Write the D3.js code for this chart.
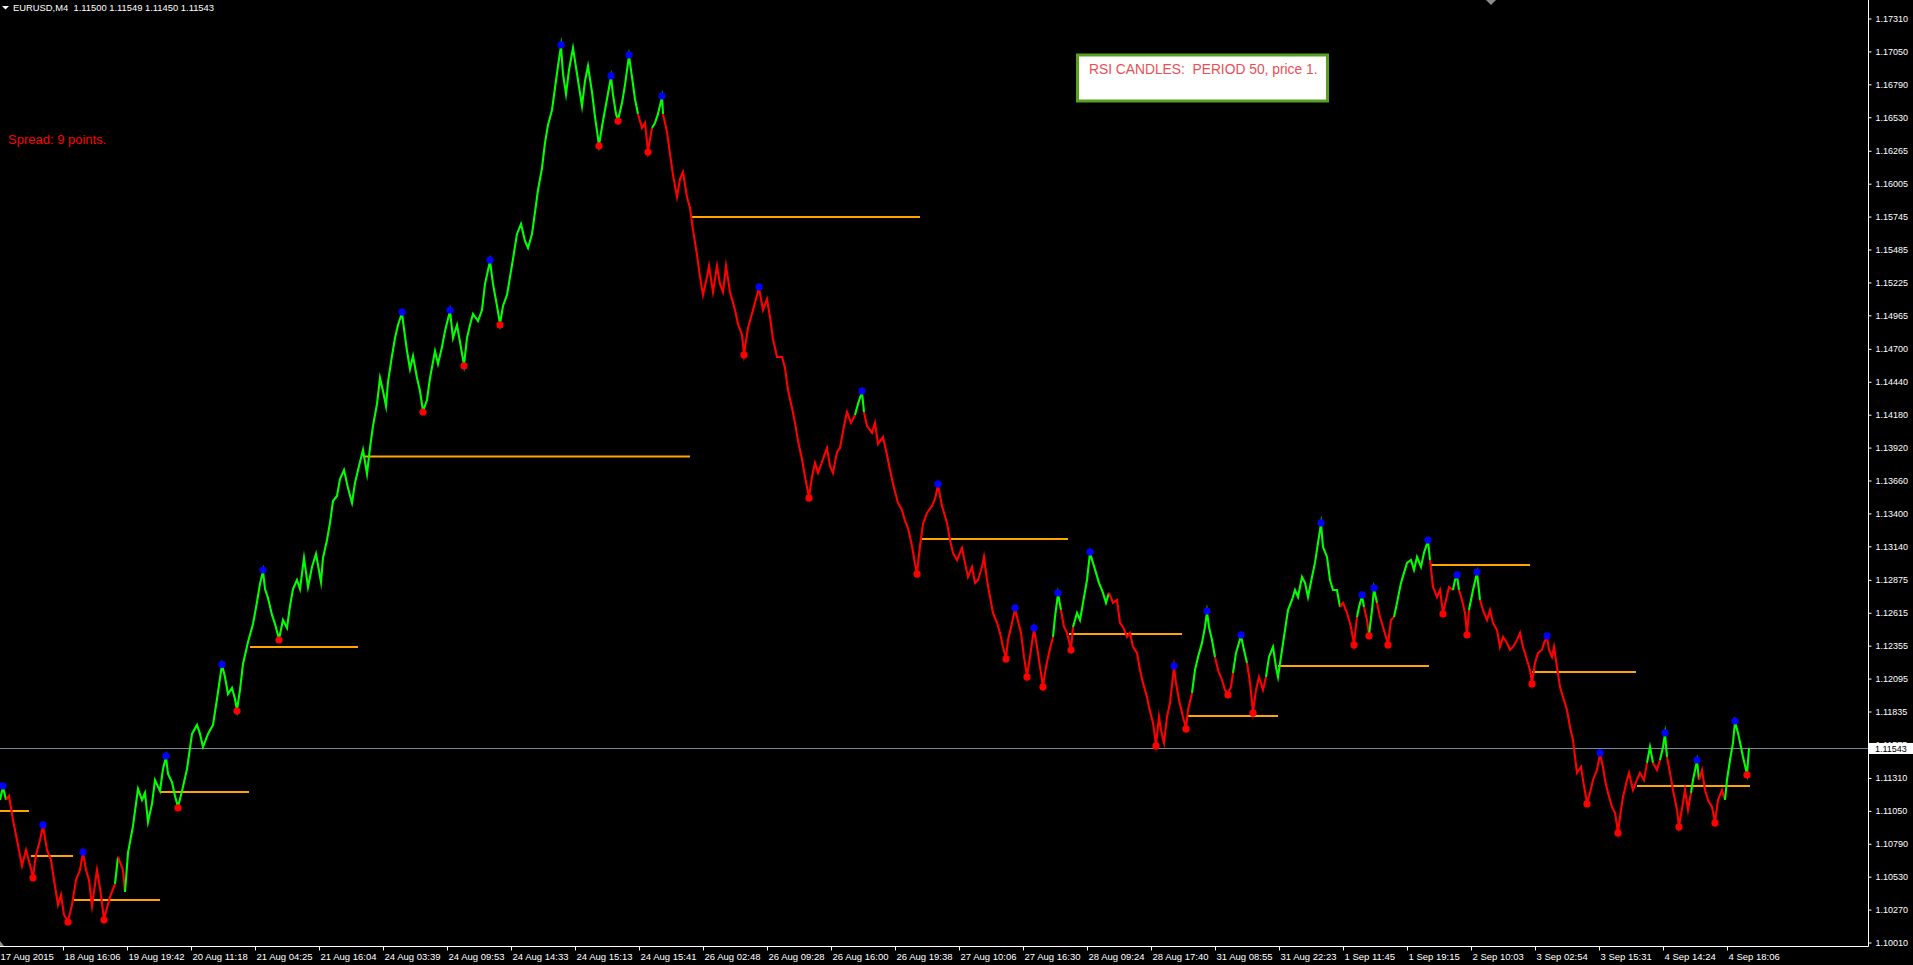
<!DOCTYPE html>
<html>
<head>
<meta charset="utf-8">
<script src="https://cdn.jsdelivr.net/npm/d3@7/dist/d3.min.js"></script>
<style>
  html, body { margin: 0; padding: 0; background: #000; overflow: hidden; }
  svg { display: block; }
  text { white-space: pre; }
</style>
</head>
<body>
<svg id="chart" width="1913" height="965"></svg>
<script>
// ---------------- DATA ----------------
const symbolTitle = "EURUSD,M4  1.11500 1.11549 1.11450 1.11543";
const spreadText = "Spread: 9 points.";
const boxText = "RSI CANDLES:  PERIOD 50, price 1.";
const lastPrice = 1.11543;

// price-axis tick labels
const priceTicks = ["1.17310","1.17050","1.16790","1.16530","1.16265","1.16005","1.15745","1.15485",
  "1.15225","1.14965","1.14700","1.14440","1.14180","1.13920","1.13660","1.13400","1.13140","1.12875",
  "1.12615","1.12355","1.12095","1.11835","1.11575","1.11310","1.11050","1.10790","1.10530","1.10270","1.10010"];

// time-axis labels (one every 64 bars)
const timeLabels = ["17 Aug 2015","18 Aug 16:06","19 Aug 19:42","20 Aug 11:18","21 Aug 04:25","21 Aug 16:04",
  "24 Aug 03:39","24 Aug 09:53","24 Aug 14:33","24 Aug 15:13","24 Aug 15:41","26 Aug 02:48","26 Aug 09:28",
  "26 Aug 16:00","26 Aug 19:38","27 Aug 10:06","27 Aug 16:30","28 Aug 09:24","28 Aug 17:40","31 Aug 08:55",
  "31 Aug 22:23","1 Sep 11:45","1 Sep 19:15","2 Sep 10:03","3 Sep 02:54","3 Sep 15:31","4 Sep 14:24","4 Sep 18:06"];
const timeLabelBars = [0,64,128,192,256,320,384,448,512,576,640,704,768,832,896,960,1024,1088,1152,1216,
  1280,1344,1408,1472,1536,1600,1664,1728];

// close path (bar number, close price)
const bars = [1,4,7,10,14,18,23,27,31,34,37,41,44,48,52,55,59,62,65,69,
73,77,81,84,87,90,93,98,101,105,111,116,119,124,126,129,134,139,143,146,
149,153,156,161,164,167,169,173,176,179,183,188,193,198,201,204,209,214,218,223,
226,229,233,236,238,241,244,249,254,258,261,264,266,269,273,276,280,284,288,291,
294,298,301,305,309,313,317,322,324,328,331,334,338,341,345,349,353,356,359,364,
368,371,374,378,381,384,387,389,393,396,399,403,405,408,411,414,418,421,424,428,
431,436,439,443,446,451,454,458,461,465,468,471,474,479,483,486,491,494,498,501,
504,508,511,514,518,522,526,529,533,536,539,543,546,549,553,556,559,562,564,567,
570,574,578,583,586,589,593,596,600,604,608,612,614,617,619,623,626,630,633,636,
639,643,646,649,653,656,659,663,664,668,671,674,678,681,684,688,691,694,698,701,
704,708,710,714,718,721,724,727,731,736,739,743,745,749,754,760,764,768,771,774,
778,783,786,789,793,796,799,803,806,810,813,816,819,824,828,831,834,838,841,845,
848,852,856,859,863,865,868,873,876,879,884,888,891,895,899,903,906,909,913,916,
918,921,924,928,933,936,939,943,948,951,954,958,963,966,969,973,976,979,983,985,
988,991,994,998,1001,1004,1007,1009,1013,1016,1018,1022,1025,1028,1031,1033,1035,1038,1041,1044,
1047,1050,1054,1056,1059,1062,1065,1068,1072,1074,1078,1081,1084,1088,1091,1094,1097,1100,1104,1107,
1110,1114,1118,1121,1124,1128,1131,1134,1138,1141,1144,1148,1150,1154,1157,1160,1162,1165,1168,1171,
1175,1177,1180,1184,1187,1189,1193,1196,1199,1203,1206,1208,1210,1213,1216,1219,1223,1226,1229,1232,
1234,1237,1242,1245,1248,1251,1254,1257,1260,1264,1267,1270,1274,1277,1279,1283,1286,1289,1293,1296,
1299,1303,1306,1309,1313,1316,1319,1322,1324,1328,1331,1334,1338,1341,1344,1348,1352,1355,1358,1360,
1363,1365,1368,1370,1373,1375,1378,1381,1384,1389,1392,1395,1398,1402,1405,1408,1412,1415,1418,1422,
1425,1429,1431,1434,1438,1441,1444,1447,1450,1454,1456,1458,1460,1463,1466,1468,1470,1474,1478,1481,
1484,1488,1491,1494,1498,1501,1504,1508,1511,1514,1518,1521,1524,1528,1531,1533,1536,1539,1543,1545,
1548,1550,1553,1555,1558,1561,1564,1568,1571,1574,1576,1578,1582,1584,1588,1591,1594,1598,1601,1604,
1606,1609,1613,1616,1619,1622,1624,1628,1630,1634,1638,1641,1645,1648,1651,1654,1658,1661,1664,1666,
1668,1671,1674,1678,1680,1684,1686,1689,1692,1694,1698,1700,1703,1706,1709,1713,1716,1719,1723,1726,
1728,1731,1734,1736,1739,1742,1744,1748,1750];

const closes = [1.11136,1.11239,1.11136,1.11168,1.10978,1.10820,1.10615,1.10741,1.10623,1.10528,
1.10702,1.10820,1.10931,1.10741,1.10662,1.10504,1.10307,1.10386,1.10228,1.10180,
1.10307,1.10504,1.10583,1.10718,1.10583,1.10504,1.10299,1.10583,1.10441,1.10196,
1.10370,1.10473,1.10686,1.10583,1.10409,1.10718,1.10931,1.11223,1.11136,1.11192,
1.10962,1.11105,1.11294,1.11207,1.11381,1.11476,1.11342,1.11278,1.11168,1.11081,
1.11207,1.11381,1.11658,1.11729,1.11658,1.11555,1.11658,1.11729,1.11934,1.12203,
1.12108,1.11974,1.12021,1.11934,1.11847,1.12005,1.12211,1.12384,1.12527,1.12700,
1.12843,1.12945,1.12803,1.12732,1.12598,1.12527,1.12408,1.12558,1.12495,1.12669,
1.12803,1.12874,1.12803,1.13048,1.12819,1.12977,1.13080,1.12858,1.13048,1.13190,
1.13325,1.13498,1.13538,1.13672,1.13743,1.13601,1.13483,1.13641,1.13743,1.13901,
1.13712,1.13917,1.14091,1.14265,1.14470,1.14367,1.14249,1.14438,1.14644,1.14786,
1.14889,1.14984,1.14857,1.14683,1.14541,1.14644,1.14470,1.14367,1.14209,1.14296,
1.14470,1.14683,1.14581,1.14715,1.14841,1.14999,1.14786,1.14889,1.14754,1.14573,
1.14786,1.14889,1.14976,1.14920,1.15007,1.15213,1.15394,1.15213,1.15039,1.14897,
1.15039,1.15126,1.15268,1.15410,1.15608,1.15687,1.15552,1.15497,1.15608,1.15781,
1.15955,1.16129,1.16327,1.16469,1.16587,1.16761,1.16935,1.17093,1.16872,1.16714,
1.16903,1.17077,1.16872,1.16619,1.16816,1.16935,1.16729,1.16532,1.16311,1.16500,
1.16674,1.16848,1.16706,1.16556,1.16508,1.16643,1.16785,1.17014,1.16848,1.16674,
1.16556,1.16445,1.16485,1.16263,1.16445,1.16485,1.16556,1.16690,1.16556,1.16413,
1.16240,1.16074,1.15900,1.16042,1.16097,1.15900,1.15813,1.15639,1.15442,1.15268,
1.15126,1.15268,1.15355,1.15149,1.15355,1.15213,1.15149,1.15355,1.15149,1.15007,
1.14897,1.14810,1.14660,1.14865,1.15007,1.15181,1.15007,1.15094,1.14952,1.14778,
1.14636,1.14636,1.14549,1.14375,1.14233,1.14115,1.13972,1.13830,1.13688,1.13530,
1.13688,1.13799,1.13720,1.13830,1.13917,1.13775,1.13720,1.13885,1.13917,1.14091,
1.14201,1.14115,1.14178,1.14265,1.14359,1.14201,1.14091,1.14036,1.14115,1.13949,
1.14004,1.13862,1.13743,1.13601,1.13483,1.13427,1.13340,1.13285,1.13143,1.13001,
1.12930,1.13143,1.13317,1.13404,1.13459,1.13514,1.13625,1.13459,1.13325,1.13190,
1.13088,1.13032,1.13127,1.13009,1.12898,1.12977,1.12851,1.12874,1.12977,1.13056,
1.12874,1.12740,1.12614,1.12535,1.12456,1.12345,1.12258,1.12400,1.12535,1.12645,
1.12582,1.12456,1.12266,1.12116,1.12266,1.12377,1.12487,1.12345,1.12187,1.12037,
1.12187,1.12298,1.12424,1.12582,1.12764,1.12637,1.12503,1.12456,1.12329,1.12503,
1.12614,1.12558,1.12693,1.12874,1.13088,1.13009,1.12930,1.12851,1.12772,1.12693,
1.12772,1.12693,1.12716,1.12535,1.12503,1.12424,1.12456,1.12345,1.12298,1.12163,
1.12061,1.11950,1.11871,1.11745,1.11571,1.11792,1.11689,1.11587,1.11792,1.11903,
1.12187,1.12061,1.11926,1.11792,1.11705,1.11847,1.11982,1.12163,1.12266,1.12377,
1.12503,1.12621,1.12503,1.12400,1.12266,1.12163,1.12084,1.12005,1.11974,1.12029,
1.12140,1.12298,1.12432,1.12321,1.12219,1.12061,1.11831,1.12005,1.12108,1.12005,
1.12108,1.12266,1.12345,1.12187,1.12108,1.12321,1.12479,1.12637,1.12716,1.12795,
1.12740,1.12898,1.12851,1.12740,1.12898,1.13009,1.13167,1.13317,1.13135,1.13056,
1.12874,1.12795,1.12795,1.12661,1.12693,1.12614,1.12503,1.12369,1.12582,1.12661,
1.12748,1.12661,1.12558,1.12440,1.12637,1.12803,1.12693,1.12582,1.12503,1.12369,
1.12558,1.12582,1.12693,1.12851,1.12930,1.13009,1.13032,1.12953,1.13056,1.12977,
1.13088,1.13182,1.13032,1.12819,1.12740,1.12795,1.12614,1.12716,1.12819,1.12795,
1.12874,1.12906,1.12795,1.12716,1.12614,1.12448,1.12637,1.12795,1.12930,1.12716,
1.12637,1.12558,1.12637,1.12535,1.12479,1.12345,1.12424,1.12377,1.12321,1.12345,
1.12400,1.12456,1.12345,1.12242,1.12163,1.12061,1.12219,1.12298,1.12321,1.12377,
1.12424,1.12321,1.12266,1.12345,1.12187,1.12029,1.11950,1.11847,1.11713,1.11610,
1.11476,1.11350,1.11397,1.11294,1.11113,1.11192,1.11294,1.11373,1.11500,1.11397,
1.11294,1.11192,1.11081,1.11034,1.10883,1.11057,1.11160,1.11294,1.11350,1.11215,
1.11294,1.11350,1.11294,1.11429,1.11555,1.11429,1.11373,1.11452,1.11555,1.11658,
1.11476,1.11350,1.11215,1.11057,1.10931,1.11113,1.11215,1.11057,1.11192,1.11294,
1.11444,1.11294,1.11373,1.11215,1.11136,1.11081,1.10962,1.11136,1.11215,1.11136,
1.11294,1.11452,1.11587,1.11752,1.11666,1.11555,1.11476,1.11342,1.11543];

// RSI colouring of the close path, as runs of consecutive points: [count, state]
const rsiRuns = [[3,"up"],[29,"down"],[1,"up"],[2,"down"],[146,"up"],[4,"down"],[4,"up"],[54,"down"],
  [3,"up"],[57,"down"],[3,"up"],[4,"down"],[11,"up"],[26,"down"],[8,"up"],[6,"down"],[4,"up"],[6,"down"],
  [23,"up"],[5,"down"],[3,"up"],[2,"down"],[3,"up"],[5,"down"],[11,"up"],[7,"down"],[3,"up"],[4,"down"],
  [3,"up"],[54,"down"],[2,"up"],[2,"down"],[3,"up"],[8,"down"],[3,"up"],[8,"down"],[9,"up"]];

// swing highs (blue) and swing lows (red)
const highBars = [4,44,84,167,223,264,403,451,491,562,612,630,663,760,863,939,1016,1035,1059,1091,
  1175,1208,1242,1322,1363,1375,1429,1458,1478,1548,1601,1666,1698,1736];
const highPrices = [1.11247,1.10939,1.10725,1.11484,1.12207,1.12953,1.14991,1.15007,1.15402,1.17101,
  1.16856,1.17022,1.16698,1.15189,1.14367,1.13633,1.12653,1.12495,1.12772,1.13095,
  1.12195,1.12629,1.12440,1.13325,1.12756,1.12811,1.13190,1.12914,1.12937,1.12432,1.11508,1.11666,1.11452,1.11760];
const lowBars = [34,69,105,179,238,280,424,465,501,600,619,649,745,810,918,1007,1028,1044,1072,1157,
  1187,1229,1254,1355,1370,1389,1444,1468,1533,1588,1619,1680,1716,1748];
const lowPrices = [1.10520,1.10172,1.10188,1.11073,1.11839,1.12400,1.14201,1.14565,1.14889,1.16303,
  1.16500,1.16255,1.14652,1.13522,1.12922,1.12250,1.12108,1.12029,1.12321,1.11563,
  1.11697,1.11966,1.11824,1.12361,1.12432,1.12361,1.12606,1.12440,1.12053,1.11105,1.10876,1.10923,1.10955,1.11334];

// horizontal levels
const levelStart = [1,32,75,161,251,365,693,923,1070,1188,1279,1431,1533,1638];
const levelEnd   = [30,74,161,250,359,691,921,1069,1183,1279,1430,1531,1637,1751];
const levelPrice = [1.11049,1.10694,1.10346,1.11199,1.12345,1.13850,1.15742,1.13198,1.12448,1.11800,
  1.12195,1.12993,1.12147,1.11247];

// ---------------- CHART ----------------
const W = 1913, H = 965;
const plotRight = 1868, plotBottom = 946;
const svg = d3.select("#chart");
svg.append("rect").attr("x",0).attr("y",0).attr("width",W).attr("height",H).attr("fill","#000");

const x = d3.scaleLinear().domain([0, 1870]).range([-1, 1869]);
const y = d3.scaleLinear().domain([1.10010, 1.17310]).range([942.5, 18.5]);

const plot = svg.append("g");
plot.append("defs").append("clipPath").attr("id","clip")
  .append("rect").attr("x",0).attr("y",0).attr("width",plotRight).attr("height",plotBottom);
const g = plot.append("g").attr("clip-path","url(#clip)");

// last price line
g.append("line").attr("x1",0).attr("x2",plotRight)
  .attr("y1",Math.round(y(lastPrice))+0.5).attr("y2",Math.round(y(lastPrice))+0.5)
  .attr("stroke","#778899").attr("stroke-width",1);

// levels
g.selectAll("line.level").data(levelPrice).join("line").attr("class","level")
  .attr("x1",(d,i)=>x(levelStart[i])).attr("x2",(d,i)=>x(levelEnd[i]))
  .attr("y1",d=>y(d)).attr("y2",d=>y(d))
  .attr("stroke","#ffa500").attr("stroke-width",2);

// coloured close path
const pts = bars.map((b,i)=>({b, c: closes[i]}));
const lineGen = d3.line().x(d=>x(d.b)).y(d=>y(d.c));
const colorOf = {up:"#00ff00", down:"#ff0000"};
let idx = 0;
const segs = [];
rsiRuns.forEach(([n, st]) => {
  const start = Math.max(0, idx - 1);
  segs.push({st, pts: pts.slice(start, idx + n)});
  idx += n;
});
g.selectAll("path.seg").data(segs).join("path").attr("class","seg")
  .attr("d", d=>lineGen(d.pts)).attr("fill","none")
  .attr("stroke", d=>colorOf[d.st]).attr("stroke-width",2.1)
  .attr("stroke-linejoin","miter").attr("stroke-miterlimit",10);

// swing dots
g.selectAll("circle.hi").data(highPrices).join("circle").attr("class","hi")
  .attr("cx",(d,i)=>x(highBars[i])).attr("cy",d=>y(d)).attr("r",3.6).attr("fill","#0000ff");
g.selectAll("circle.lo").data(lowPrices).join("circle").attr("class","lo")
  .attr("cx",(d,i)=>x(lowBars[i])).attr("cy",d=>y(d)).attr("r",3.6).attr("fill","#ff0000");

// axes
const axisFont = "'Liberation Sans', Arial, sans-serif";
const yAxis = d3.axisRight(y)
  .tickValues(priceTicks.map(Number))
  .tickFormat((d,i)=>priceTicks[i]).tickSize(3).tickPadding(4);
const yg = svg.append("g").attr("transform",`translate(${plotRight+0.5},0)`).call(yAxis);
yg.select(".domain").remove();
yg.attr("color","#fff").attr("font-family",axisFont).attr("font-size",9);
yg.selectAll("text").attr("fill","#fff");

const xAxis = d3.axisBottom(x).tickValues(timeLabelBars)
  .tickFormat((d,i)=>timeLabels[i]).tickSize(4).tickPadding(3);
const xg = svg.append("g").attr("transform",`translate(0,${plotBottom+0.5})`).call(xAxis);
xg.select(".domain").remove();
xg.attr("color","#fff").attr("font-family",axisFont).attr("font-size",9.5);
xg.selectAll("text").attr("text-anchor","start").attr("x",1).attr("fill","#fff");

// frame lines
svg.append("line").attr("x1",plotRight+0.5).attr("x2",plotRight+0.5).attr("y1",0).attr("y2",plotBottom+0.5)
  .attr("stroke","#fff").attr("stroke-width",1);
svg.append("line").attr("x1",0).attr("x2",plotRight+0.5).attr("y1",plotBottom+0.5).attr("y2",plotBottom+0.5)
  .attr("stroke","#fff").attr("stroke-width",1);

// last price label
const ly = y(lastPrice);
svg.append("rect").attr("x",plotRight+1).attr("y",ly-5.5).attr("width",W-plotRight-1).attr("height",11).attr("fill","#fff");
svg.append("text").attr("x",1875).attr("y",ly+3.3).attr("fill","#000")
  .attr("font-family",axisFont).attr("font-size",9).text(lastPrice.toFixed(5));

// shift marker at top
svg.append("path").attr("d","M1486,0 L1496,0 L1491,5 Z").attr("fill","#8c8c8c");
// small marker bottom-left
svg.append("path").attr("d","M0,941 L4,946 L0,946 Z").attr("fill","#8c8c8c");

// title
svg.append("path").attr("d","M2,6 L9,6 L5.5,9.5 Z").attr("fill","#fff");
svg.append("text").attr("x",13).attr("y",10.5).attr("fill","#fff")
  .attr("font-family",axisFont).attr("font-size",9.4).text(symbolTitle);

// spread text
svg.append("text").attr("x",8).attr("y",144).attr("fill","#ff0000")
  .attr("font-family",axisFont).attr("font-size",13).text(spreadText);

// RSI box
svg.append("rect").attr("x",1077.5).attr("y",55).attr("width",250).attr("height",46)
  .attr("fill","#fff").attr("stroke","#58a020").attr("stroke-width",3);
svg.append("text").attr("x",1089).attr("y",74).attr("fill","#ea4e55")
  .attr("font-family",axisFont).attr("font-size",13.8).text(boxText);
</script>
</body>
</html>
